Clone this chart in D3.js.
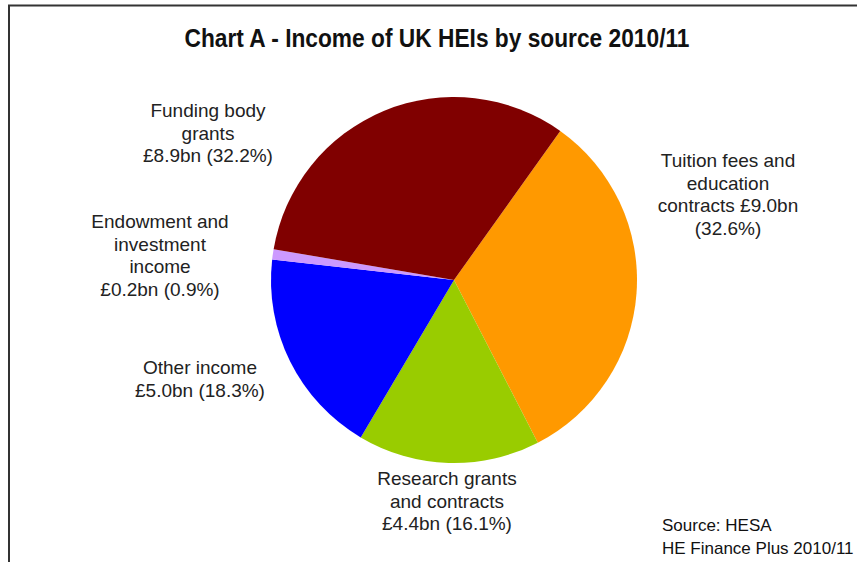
<!DOCTYPE html>
<html>
<head>
<meta charset="utf-8">
<script src="https://cdn.jsdelivr.net/npm/d3@7"></script>
<style>
  body { margin: 0; background: #fff; }
  svg { display: block; }
</style>
</head>
<body>
<div id="chart"></div>
<script>
// data
const categories = ["Tuition fees and education contracts", "Research grants and contracts",
    "Other income", "Endowment and investment income", "Funding body grants"];
const amounts = [9.0, 4.4, 5.0, 0.2, 8.9];          // £bn
const shares = [32.6, 16.1, 18.3, 0.9, 32.2];        // %
const colours = ["#FF9900", "#99CC00", "#0000FF", "#CC99FF", "#800000"];
// label text lines, as wrapped in the original
const labelLines = [
    ["Tuition fees and", "education", "contracts £9.0bn", "(32.6%)"],
    ["Research grants", "and contracts", "£4.4bn (16.1%)"],
    ["Other income", "£5.0bn (18.3%)"],
    ["Endowment and", "investment", "income", "£0.2bn (0.9%)"],
    ["Funding body", "grants", "£8.9bn (32.2%)"]
];

const width = 857, height = 562;
const cx = 454, cy = 280, radius = 183;
const startAngle = 35.5 * Math.PI / 180;

const svg = d3.select("#chart").append("svg")
    .attr("width", width)
    .attr("height", height);

// frame (left + top edges visible, rest is cut off)
svg.append("path")
    .attr("d", `M9,${height} V5.5 H${width}`)
    .attr("fill", "none")
    .attr("stroke", "#333")
    .attr("stroke-width", 2);

// title
svg.append("text")
    .attr("x", 437)
    .attr("y", 47)
    .attr("text-anchor", "middle")
    .attr("font-family", "'Liberation Sans Narrow', 'Arial Narrow', 'Liberation Sans', Arial, sans-serif")
    .attr("font-weight", "bold")
    .attr("font-size", 26)
    .attr("textLength", 505)
    .attr("lengthAdjust", "spacingAndGlyphs")
    .attr("fill", "#111")
    .text("Chart A - Income of UK HEIs by source 2010/11");

const data = categories.map((c, i) => ({
    name: c, amount: amounts[i], share: shares[i], colour: colours[i], lines: labelLines[i]
}));

const pie = d3.pie()
    .sort(null)
    .value(d => d.share)
    .startAngle(startAngle)
    .endAngle(startAngle + 2 * Math.PI);

const arc = d3.arc().innerRadius(0).outerRadius(radius);

const g = svg.append("g").attr("transform", `translate(${cx},${cy})`);

g.selectAll("path")
    .data(pie(data))
    .join("path")
    .attr("d", arc)
    .attr("fill", d => d.data.colour);

// label anchor positions (centre of first line)
const labelPos = [
    { x: 728, y: 167 },
    { x: 447, y: 485 },
    { x: 200, y: 374 },
    { x: 160, y: 228 },
    { x: 208, y: 117 }
];

const lineH = 22.7;

const labels = svg.append("g")
    .attr("font-family", "'Liberation Sans', Arial, sans-serif")
    .attr("font-size", 19)
    .attr("fill", "#222")
    .attr("text-anchor", "middle")
    .selectAll("text")
    .data(data)
    .join("text")
    .attr("x", (d, i) => labelPos[i].x)
    .attr("y", (d, i) => labelPos[i].y);

labels.selectAll("tspan")
    .data((d, i) => d.lines.map(l => ({ l, x: labelPos[i].x })))
    .join("tspan")
    .attr("x", d => d.x)
    .attr("dy", (d, j) => j === 0 ? 0 : lineH)
    .text(d => d.l);

// source note
const source = ["Source: HESA", "HE Finance Plus 2010/11"];
svg.append("g")
    .attr("font-family", "'Liberation Sans', Arial, sans-serif")
    .attr("font-size", 17)
    .attr("fill", "#111")
    .selectAll("text")
    .data(source)
    .join("text")
    .attr("x", 662)
    .attr("y", (d, i) => 531 + i * 23)
    .text(d => d);
</script>
</body>
</html>
